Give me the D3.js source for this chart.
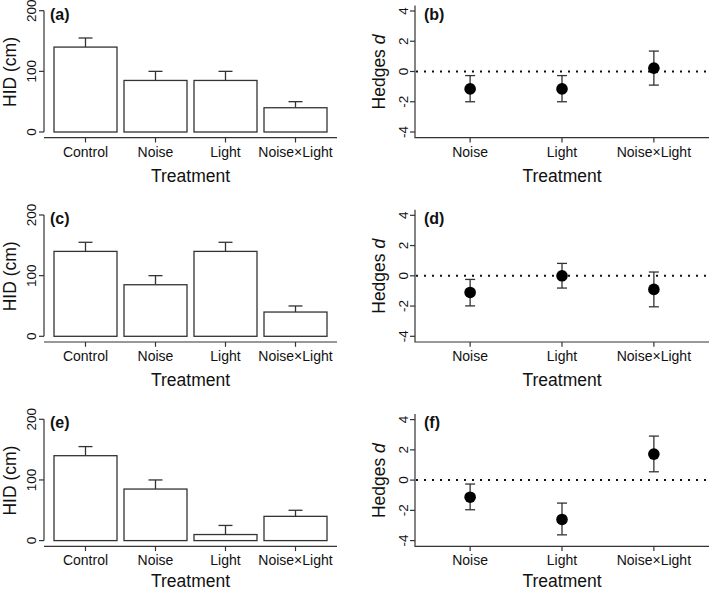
<!doctype html>
<head>
<meta charset="utf-8">
<script src="https://d3js.org/d3.v7.min.js"></script>
<style>
  body { margin: 0; background: #fff; }
  text { font-family: "Liberation Sans", Arial, sans-serif; fill: #111; }
</style>
</head>
<body>
<svg id="chart" width="709" height="591"></svg>
<script>
// treatments for the bar panels
const categories = ["Control", "Noise", "Light", "Noise×Light"]
const hidA = [140, 85, 85, 40], seA = [15, 15, 15, 10]
const hidC = [140, 85, 140, 40], seC = [15, 15, 15, 10]
const hidE = [140, 85, 10, 40], seE = [15, 15, 15, 10]
const hidTicks = [0, 100, 200]

// effect sizes (Hedges d) vs control
const effCats = ["Noise", "Light", "Noise×Light"]
const dB = [-1.15, -1.15, 0.22], loB = [-2.0, -2.0, -0.9], hiB = [-0.27, -0.27, 1.35]
const dD = [-1.1, 0, -0.9], loD = [-1.99, -0.81, -2.05], hiD = [-0.24, 0.82, 0.25]
const dF = [-1.13, -2.6, 1.72], loF = [-1.96, -3.62, 0.55], hiF = [-0.26, -1.52, 2.91]
const dTicks = [-4, -2, 0, 2, 4]

const svg = d3.select("#chart")
const ink = "#333"
const rowStep = 204.3

function barPanel(oy, label, vals, ses, titleY) {
  const g = svg.append("g").attr("transform", `translate(0,${oy})`)
  const x = d3.scaleBand().domain(categories).range([50.5, 330.5]).paddingInner(0.1).paddingOuter(0.05)
  const y = d3.scaleLinear().domain([0, 200]).range([132, 10.7])

  // y axis: line over tick range only
  g.append("line").attr("x1", 44).attr("x2", 44).attr("y1", y(0)).attr("y2", y(200))
    .attr("stroke", ink).attr("stroke-width", 1.2)
  hidTicks.forEach(t => {
    g.append("line").attr("x1", 39).attr("x2", 44).attr("y1", y(t)).attr("y2", y(t))
      .attr("stroke", ink).attr("stroke-width", 1.2)
    g.append("text").attr("transform", `translate(31,${y(t)}) rotate(-90)`)
      .attr("text-anchor", "middle").attr("dy", "0.35em").attr("font-size", 13.5).text(t)
  })

  // x axis spans the plot region
  g.append("line").attr("x1", 44).attr("x2", 337).attr("y1", 137.7).attr("y2", 137.7)
    .attr("stroke", ink).attr("stroke-width", 1.2)
  categories.forEach(c => {
    const cx = x(c) + x.bandwidth() / 2
    g.append("line").attr("x1", cx).attr("x2", cx).attr("y1", 137.7).attr("y2", 142.5)
      .attr("stroke", ink).attr("stroke-width", 1.2)
    g.append("text").attr("x", cx).attr("y", 152).attr("dy", "0.35em")
      .attr("text-anchor", "middle").attr("font-size", 14).text(c)
  })

  // error bars first (upper only), then bars on top
  g.selectAll("line.err").data(categories).join("line").attr("class", "err")
    .attr("x1", c => x(c) + x.bandwidth() / 2).attr("x2", c => x(c) + x.bandwidth() / 2)
    .attr("y1", (c, i) => y(vals[i])).attr("y2", (c, i) => y(vals[i] + ses[i]))
    .attr("stroke", ink).attr("stroke-width", 1.3)
  g.selectAll("line.cap").data(categories).join("line").attr("class", "cap")
    .attr("x1", c => x(c) + x.bandwidth() / 2 - 7).attr("x2", c => x(c) + x.bandwidth() / 2 + 7)
    .attr("y1", (c, i) => y(vals[i] + ses[i])).attr("y2", (c, i) => y(vals[i] + ses[i]))
    .attr("stroke", ink).attr("stroke-width", 1.3)
  g.selectAll("rect").data(categories).join("rect")
    .attr("x", c => x(c)).attr("width", x.bandwidth())
    .attr("y", (c, i) => y(vals[i])).attr("height", (c, i) => y(0) - y(vals[i]))
    .attr("fill", "#fff").attr("stroke", ink).attr("stroke-width", 1.3)

  g.append("text").attr("x", 190.5).attr("y", titleY).attr("dy", "0.35em")
    .attr("text-anchor", "middle").attr("font-size", 17.5).text("Treatment")
  g.append("text").attr("transform", "translate(9.5,72) rotate(-90)")
    .attr("text-anchor", "middle").attr("dy", "0.35em").attr("font-size", 17.5).text("HID (cm)")
  g.append("text").attr("x", 50).attr("y", 14).attr("dy", "0.35em")
    .attr("font-size", 16).attr("font-weight", "bold").text(label)
}

function effectPanel(oy, label, d, lo, hi, titleY) {
  const g = svg.append("g").attr("transform", `translate(0,${oy})`)
  const x = d3.scalePoint().domain(effCats).range([415, 709]).padding(0.6)
  const y = d3.scaleLinear().domain([-4, 4]).range([132, 11])

  // L-shaped frame
  g.append("path").attr("d", `M415,5.5V137.7H709`).attr("fill", "none")
    .attr("stroke", ink).attr("stroke-width", 1.2)
  dTicks.forEach(t => {
    g.append("line").attr("x1", 410).attr("x2", 415).attr("y1", y(t)).attr("y2", y(t))
      .attr("stroke", ink).attr("stroke-width", 1.2)
    g.append("text").attr("transform", `translate(403,${y(t)}) rotate(-90)`)
      .attr("text-anchor", "middle").attr("dy", "0.35em").attr("font-size", 13.5).text(t)
  })
  effCats.forEach(c => {
    g.append("line").attr("x1", x(c)).attr("x2", x(c)).attr("y1", 137.7).attr("y2", 142.5)
      .attr("stroke", ink).attr("stroke-width", 1.2)
    g.append("text").attr("x", x(c)).attr("y", 152).attr("dy", "0.35em")
      .attr("text-anchor", "middle").attr("font-size", 14).text(c)
  })

  // reference line at zero
  g.append("line").attr("x1", 416).attr("x2", 709).attr("y1", y(0)).attr("y2", y(0))
    .attr("stroke", "#111").attr("stroke-width", 2).attr("stroke-dasharray", "2 6")

  g.selectAll("line.err").data(effCats).join("line").attr("class", "err")
    .attr("x1", c => x(c)).attr("x2", c => x(c))
    .attr("y1", (c, i) => y(lo[i])).attr("y2", (c, i) => y(hi[i]))
    .attr("stroke", ink).attr("stroke-width", 1.3)
  ;[lo, hi].forEach((arr, k) => {
    g.selectAll(`line.cap${k}`).data(effCats).join("line").attr("class", `cap${k}`)
      .attr("x1", c => x(c) - 5).attr("x2", c => x(c) + 5)
      .attr("y1", (c, i) => y(arr[i])).attr("y2", (c, i) => y(arr[i]))
      .attr("stroke", ink).attr("stroke-width", 1.3)
  })
  g.selectAll("circle").data(effCats).join("circle")
    .attr("cx", c => x(c)).attr("cy", (c, i) => y(d[i])).attr("r", 5.8).attr("fill", "#000")

  g.append("text").attr("x", 562).attr("y", titleY).attr("dy", "0.35em")
    .attr("text-anchor", "middle").attr("font-size", 17.5).text("Treatment")
  const yl = g.append("text").attr("transform", "translate(379,72) rotate(-90)")
    .attr("text-anchor", "middle").attr("dy", "0.35em").attr("font-size", 17.5)
  yl.append("tspan").text("Hedges ")
  yl.append("tspan").attr("font-style", "italic").text("d")
  g.append("text").attr("x", 424).attr("y", 14).attr("dy", "0.35em")
    .attr("font-size", 16).attr("font-weight", "bold").text(label)
}

barPanel(0, "(a)", hidA, seA, 175.5)
effectPanel(0, "(b)", dB, loB, hiB, 175.5)
barPanel(rowStep, "(c)", hidC, seC, 175.5)
effectPanel(rowStep, "(d)", dD, loD, hiD, 175.5)
// bottom row title sits right at the lower edge
barPanel(rowStep * 2, "(e)", hidE, seE, 172.5)
effectPanel(rowStep * 2, "(f)", dF, loF, hiF, 172.5)
</script>
</body>
